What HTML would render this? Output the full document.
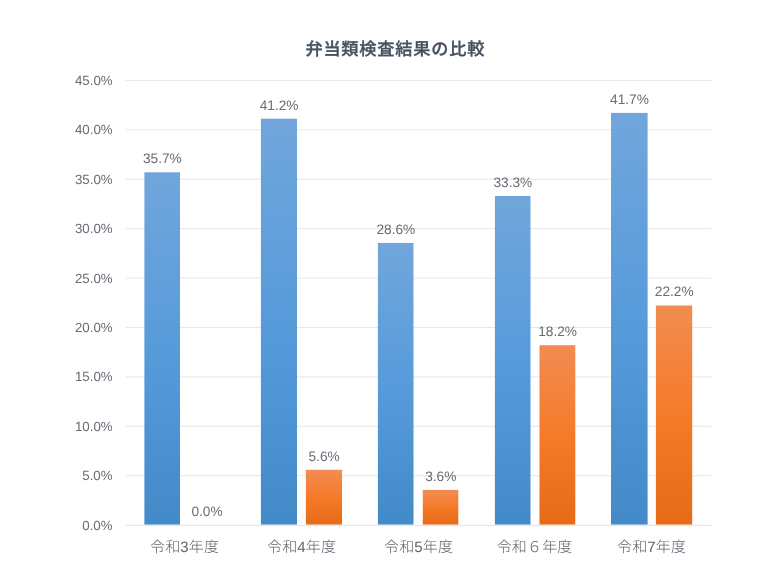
<!DOCTYPE html>
<html lang="ja">
<head>
<meta charset="utf-8">
<title>弁当類検査結果の比較</title>
<style>
html,body{margin:0;padding:0;background:#fff;}
body{width:780px;height:585px;overflow:hidden;font-family:"Liberation Sans","Noto Sans CJK JP",sans-serif;}
svg{display:block;}
text{font-family:"Liberation Sans","Noto Sans CJK JP",sans-serif;text-rendering:geometricPrecision;}
.t{font-size:17.2px;letter-spacing:0.8px;font-weight:500;fill:#47505f;stroke:#47505f;stroke-width:0.35px;}
.y{font-size:13.3px;fill:#676d75;text-anchor:end;}
.d{font-size:13.7px;fill:#676d75;text-anchor:middle;}
.c{font-size:15px;letter-spacing:0.15px;font-weight:300;fill:#5f656d;text-anchor:middle;}
</style>
</head>
<body>
<svg width="780" height="585" viewBox="0 0 780 585">
<defs>
<linearGradient id="gb" x1="0" y1="0" x2="0" y2="1">
<stop offset="0" stop-color="#71a6db"/><stop offset="0.5" stop-color="#579bdb"/><stop offset="1" stop-color="#438ac9"/>
</linearGradient>
<linearGradient id="go" x1="0" y1="0" x2="0" y2="1">
<stop offset="0" stop-color="#f18c52"/><stop offset="0.5" stop-color="#f57b29"/><stop offset="1" stop-color="#e56b17"/>
</linearGradient>
</defs>
<rect width="780" height="585" fill="#ffffff"/>
<line x1="125.5" y1="475.69" x2="711.2" y2="475.69" stroke="#e6e6e6" stroke-width="1"/>
<line x1="125.5" y1="426.28" x2="711.2" y2="426.28" stroke="#e6e6e6" stroke-width="1"/>
<line x1="125.5" y1="376.87" x2="711.2" y2="376.87" stroke="#e6e6e6" stroke-width="1"/>
<line x1="125.5" y1="327.46" x2="711.2" y2="327.46" stroke="#e6e6e6" stroke-width="1"/>
<line x1="125.5" y1="278.04" x2="711.2" y2="278.04" stroke="#e6e6e6" stroke-width="1"/>
<line x1="125.5" y1="228.63" x2="711.2" y2="228.63" stroke="#e6e6e6" stroke-width="1"/>
<line x1="125.5" y1="179.22" x2="711.2" y2="179.22" stroke="#e6e6e6" stroke-width="1"/>
<line x1="125.5" y1="129.81" x2="711.2" y2="129.81" stroke="#e6e6e6" stroke-width="1"/>
<line x1="125.5" y1="80.40" x2="711.2" y2="80.40" stroke="#e6e6e6" stroke-width="1"/>
<rect x="144.4" y="172.30" width="35.6" height="352.30" fill="url(#gb)"/>
<rect x="260.9" y="118.70" width="36.1" height="405.90" fill="url(#gb)"/>
<rect x="377.9" y="242.90" width="35.6" height="281.70" fill="url(#gb)"/>
<rect x="494.9" y="196.00" width="35.6" height="328.60" fill="url(#gb)"/>
<rect x="611.0" y="112.90" width="36.6" height="411.70" fill="url(#gb)"/>
<rect x="305.9" y="469.80" width="36.1" height="54.80" fill="url(#go)"/>
<rect x="422.8" y="489.90" width="35.5" height="34.70" fill="url(#go)"/>
<rect x="539.5" y="345.20" width="35.8" height="179.40" fill="url(#go)"/>
<rect x="655.9" y="305.50" width="36.3" height="219.10" fill="url(#go)"/>
<line x1="125.5" y1="525.35" x2="711.2" y2="525.35" stroke="#dedede" stroke-width="0.9"/>
<g style="will-change:transform">
<text class="y" x="112.6" y="530">0.0%</text>
<text class="y" x="112.6" y="480">5.0%</text>
<text class="y" x="112.6" y="431">10.0%</text>
<text class="y" x="112.6" y="381">15.0%</text>
<text class="y" x="112.6" y="332">20.0%</text>
<text class="y" x="112.6" y="283">25.0%</text>
<text class="y" x="112.6" y="233">30.0%</text>
<text class="y" x="112.6" y="184">35.0%</text>
<text class="y" x="112.6" y="134">40.0%</text>
<text class="y" x="112.6" y="85">45.0%</text>
<text class="d" x="162.4" y="163.00">35.7%</text>
<text class="d" x="279.1" y="110.00">41.2%</text>
<text class="d" x="395.9" y="234.00">28.6%</text>
<text class="d" x="512.9" y="187.00">33.3%</text>
<text class="d" x="629.5" y="104.00">41.7%</text>
<text class="d" x="207.0" y="516.00">0.0%</text>
<text class="d" x="324.1" y="461.00">5.6%</text>
<text class="d" x="440.8" y="481.00">3.6%</text>
<text class="d" x="557.6" y="336.00">18.2%</text>
<text class="d" x="674.2" y="296.00">22.2%</text>
<text class="c" x="184.6" y="552.0">令和3年度</text>
<text class="c" x="301.6" y="552.0">令和4年度</text>
<text class="c" x="418.6" y="552.0">令和5年度</text>
<text class="c" x="534.6" y="552.0">令和６年度</text>
<text class="c" x="651.6" y="552.0">令和7年度</text>
<text class="t" x="305.4" y="55.4">弁当類検査結果の比較</text>
</g>
</svg>
</body>
</html>
